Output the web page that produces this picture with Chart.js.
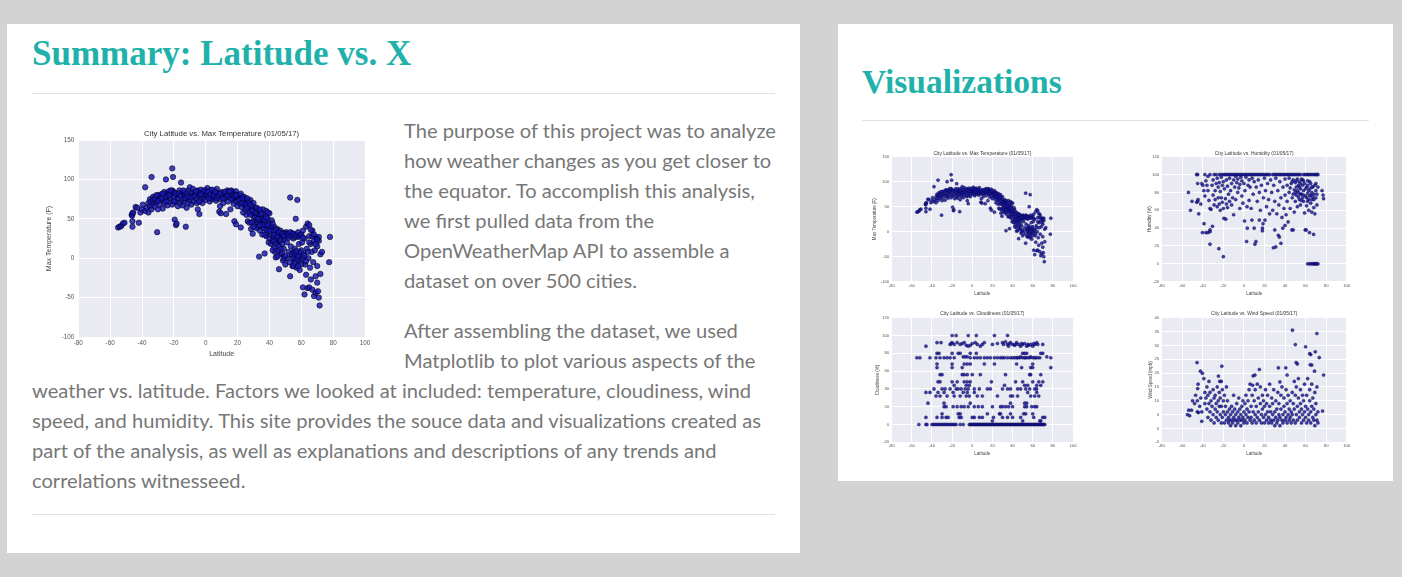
<!DOCTYPE html>
<html>
<head>
<meta charset="utf-8">
<script src="https://cdn.jsdelivr.net/npm/chart.js@4.4.1/dist/chart.umd.min.js"></script>
<style>
  html,body{margin:0;padding:0;}
  body{background:#d3d3d3;width:1402px;height:577px;position:relative;overflow:hidden;}
  .panel{position:absolute;background:#fff;}
  h2{position:absolute;margin:0;font-family:"Liberation Serif","Times New Roman",serif;font-weight:bold;color:#20b2aa;line-height:40px;white-space:nowrap;}
  .rule{position:absolute;height:1px;background:#e3e3e3;}
  #text{position:absolute;left:32px;top:115px;width:760px;font-family:Lato,"Open Sans",sans-serif;font-size:20.15px;line-height:30px;color:#777;}
  #text .l{white-space:nowrap;}
  #text .in{padding-left:372px;}
  #text .gap{margin-bottom:20px;}
  canvas{position:absolute;}
</style>
</head>
<body>
<div class="panel" style="left:7px;top:24px;width:793px;height:529px;"></div>
<div class="panel" style="left:838px;top:24px;width:555px;height:457px;"></div>

<h2 style="left:32px;top:34px;font-size:35px;">Summary: Latitude vs. X</h2>
<div class="rule" style="left:32px;top:93px;width:743px;"></div>
<div id="text">
  <div class="l in">The purpose of this project was to analyze</div>
  <div class="l in">how weather changes as you get closer to</div>
  <div class="l in">the equator. To accomplish this analysis,</div>
  <div class="l in">we first pulled data from the</div>
  <div class="l in">OpenWeatherMap API to assemble a</div>
  <div class="l in gap">dataset on over 500 cities.</div>
  <div class="l in">After assembling the dataset, we used</div>
  <div class="l in">Matplotlib to plot various aspects of the</div>
  <div class="l">weather vs. latitude. Factors we looked at included: temperature, cloudiness, wind</div>
  <div class="l">speed, and humidity. This site provides the souce data and visualizations created as</div>
  <div class="l">part of the analysis, as well as explanations and descriptions of any trends and</div>
  <div class="l">correlations witnesseed.</div>
</div>
<div class="rule" style="left:32px;top:514px;width:743px;"></div>

<h2 style="left:862px;top:62px;font-size:33.5px;">Visualizations</h2>
<div class="rule" style="left:862px;top:120px;width:507px;"></div>

<canvas id="mainTemp" width="350" height="240" style="left:30px;top:122px;"></canvas>
<canvas id="smTemp" width="258" height="157" style="left:862px;top:143px;"></canvas>
<canvas id="smHum" width="262" height="157" style="left:1120px;top:143px;"></canvas>
<canvas id="smCloud" width="258" height="157" style="left:862px;top:305px;"></canvas>
<canvas id="smWind" width="262" height="157" style="left:1120px;top:305px;"></canvas>

<script>
// ---------- data (latitude, value) ----------
const latTicks = [-80, -60, -40, -20, 0, 20, 40, 60, 80, 100];
const tempTicks = [-100, -50, 0, 50, 100, 150];
const humTicks = [-20, 0, 20, 40, 60, 80, 100, 120];
const cloudTicks = [-20, 0, 20, 40, 60, 80, 100, 120];
const windTicks = [-5, 0, 5, 10, 15, 20, 25, 30, 35, 40];

const tempData = [
[-55,39],[-54,40],[-53,41],[-52,44],[-51,45],
[-46.5,55],[-46,57],[-46.2,54],[-45.5,58],[-46,47],[-46,40],[-44,65],[-43,64],[-42,45],
[-41,58],[-40,62],[-39.5,68],[-38,90],[-38,60],[-37,64],[-36,70],[-36,58],[-35,66],[-35,75],[-34.5,72],[-34,103],[-34,62],[-33,69],[-33,78],[-32,66],[-31,71],[-30.5,33],[-30,62],[-30,80],[-29,75],[-29,68],[-28,81],[-27,63],[-27,74],
[-26,84],[-26,70],[-25,100],[-25,77],[-24.5,82],[-24,67],[-24,79],[-23,85],[-23,72],[-22,76],[-22,81],[-21,114],[-21,86],[-21,68],[-20.5,103],[-20,78],[-20,84],[-19.5,49],[-19,72],[-18.7,42],[-18.3,44],[-18,80],[-17.5,66],[-17,76],[-16.5,86],[-16,70],[-15.5,96],[-15,82],[-15,74],[-14.5,67],
[-14,80],[-13.5,72],[-13,84],[-12.5,40],[-12,64],[-12,77],[-11,70],[-11,86],[-10.5,80],[-10,90],[-10,74],[-9,83],[-9,68],[-8.5,78],[-8,88],[-7.5,72],[-7,84],[-6.5,80],[-6,76],[-5.5,70],[-5,86],[-5,62],[-4.5,79],[-4,56],[-4,82],[-3,74],[-3,87],[-2,80],[-2,70],[-1.5,84],[-1,77],[-0.5,81],
[0,86],[0,74],[0.5,80],[1,89],[1.5,78],[2,83],[2.5,72],[3,86],[3.5,79],[4,75],[4.5,82],[5,77],[5.5,85],[6,80],[6.5,73],[7,88],[7.5,78],[8,82],[8.5,59],[9,75],[9,66],[9.5,57],[10,84],[10,79],[11,70],[11.5,82],
[12,76],[12.8,56],[13,80],[13.5,86],[14,72],[14.5,84],[15,78],[15.5,62],[16,86],[16.5,80],[17,74],[17,84],[17.5,69],[18,82],[18,47],[18.5,77],[19,43],[19,85],[19.5,72],[20,78],[20,66],
[21,80],[21.5,70],[22,39],[22,75],[22.5,65],[23,78],[23.5,58],[24,72],[24.5,68],[25,75],[25,62],[25.5,55],[26,71],[26.4,47],[27,66],[27.4,45],[27.5,58],[28,74],[28.5,37],[28.5,62],[29,67],[29.5,31],[29.5,55],[30,70],[30,48],
[30.5,60],[31,44],[31,52],[31.5,63],[32,57],[32,38],[32.5,50],[33,61],[33,45],[33.5,2],[33.5,55],[34,35],[34,48],[34.5,58],[35,42],[35,52],[35.5,30],[36,46],[36,62],[36.5,38],[37,6],[37,54],[37.5,44],[38,28],[38,60],[38.5,40],[39,50],[39,33],[39.5,20],[40,45],[40,57],[40,25],
[40.5,38],[41,30],[41,18],[41.5,48],[42,22],[42,35],[42.5,28],[43,40],[43,14],[43.5,8],[44,1],[44,25],[44.5,32],[45,20],[45,37],[45.5,10],[46,28],[46,-14],[46.5,22],[47,35],[47,5],[47.5,30],[48,18],[48,26],[48.5,-3],[49,32],[49,12],[49.5,24],[50,28],[50,-8],
[50.5,33],[51,20],[51,0],[51.5,30],[52,8],[52,26],[52.5,-5],[53,29],[53,-23],[53,77],[53.5,15],[54,32],[54,3],[54.5,-10],[55,25],[55,8],[55.5,-2],[56,29],[56,12],[56.5,50],[57,5],[57,-12],[57.5,74],[58,27],[58,-4],[58.5,18],[59,2],[59,-15],[59.5,30],[60,10],
[60,-3],[60.5,20],[61,-37],[61,35],[61.5,5],[62,-46],[62,25],[62.5,-8],[63,-21],[63,40],[63.5,12],[64,44],[64,-38],[64.5,0],[65,-37],[65,42],[65,28],[65.5,-12],[66,18],[66,-27],[66.5,8],[67,-40],[67,35],[67.5,-5],[68,-48],[68,22],[68.5,10],[69,-23],[69,-44],[69.5,26],[70,-31],[70,15],[70,-10],
[70.5,-42],[71,-50],[71,22],[71,27],[71.5,-60],[72,5],[72,-20],[73,8],[77.5,-5],[78,27],
[50,30],[51,31],[52,29],[53,33],[54,28],[55,31],[56,27],[57,30],[58,33],[59,28],[60,30],[61,26],
[54,5],[55,0],[56,6],[57,-2],[58,3],[59,8],[60,-8],[56,-6],[55,-10],[58,-10],[61,0],[62,3],[63,-4],[64,8],[57,9],
[65,20],[67,28],[68,30],[69,18],[70,24],[66,36],
[41,40],[42,44],[43,30],[44,36],[45,27],[46,33],[47,23],[48,31],[49,28],[43,22],[44,18],[46,15],[47,12],[48,6],[49,0],[50,3],[45,2],[42,10],
[31,58],[32,64],[33,40],[34,62],[35,56],[36,50],[37,48],[38,52],[39,58],[38,36],[36,42],[34,42],[33,50],[37,30],[39,42],[40,35],
[21,74],[22,82],[23,70],[24,78],[25,68],[26,64],[27,72],[28,68],[29,60],[23,76],[26,76],[28,55],[29,45],[30,40],
[-33,74],[-32,76],[-31,80],[-30,73],[-28,76],[-27,82],[-25,72],[-23,80],[-22,86],[-20,72],[-19,82],[-17,82],[-16,79],[-14,86],[-13,76],[-12,82],[-11,78],[-9,77],[-7,79],[-6,85],[-4,72],[-3,81],[-1,86],
[1,84],[2,76],[3,81],[4,87],[5,80],[6,84],[7,76],[8,79],[9,82],[11,76],[12,84],[13,78],[14,80],[15,85],[16,76],[17,80],[18,78],[19,80]
];

const humData = [
[-46,100],[-45,100],[-38,100],[-33,100],[-29,100],[-27,100],[-24,100],[-22,100],
[-20,100],[-18.5,100],[-17,100],[-15.5,100],[-14,100],[-12.5,100],[-11,100],[-9.5,100],[-8,100],[-6.5,100],[-5,100],[-3.5,100],[-2,100],[-0.5,100],[1,100],[2.5,100],[4,100],[5.5,100],[7,100],[8.5,100],[10,100],[11.5,100],[13,100],[14.5,100],[16,100],[17.5,100],[19,100],[20.5,100],[22,100],[23.5,100],[25,100],[28,100],[29.5,100],[31,100],[32.5,100],[34,100],[35.5,100],[37,100],[38.5,100],[40,100],[41.5,100],[43,100],[44.5,100],[46,100],[47.5,100],[49,100],[50.5,100],[52,100],[53.5,100],[55,100],[58,100],[59.5,100],[61,100],[62.5,100],[64,100],[65.5,100],[67,100],[68.5,100],[70,100],[71,100],[72,100],
[-54,80],[-52,60],[-50.5,70],[-45,90],[-44.6,72],[-44,56],[-42,67],[-41,90],[-46,69],[-45,70],[-40,88],[-39,82],[-38.8,45],[-40.4,35],[-37,35],[-35,35],[-33,38],[-33,36],[-30.6,42],[-33,22],[-24.4,17],[-20,8],
[-38,76],[-37,93],[-36,88],[-35,98],[-35,82],[-34,71],[-33,62],[-32,61],[-31,88],[-30,77],[-30,94],[-29,66],[-28,82],[-28,72],[-27,90],[-26,96],[-26,64],[-25,74],[-25,86],[-24,91],[-24,67],[-23,81],[-23,60],[-22,97],[-22,74],[-21,88],[-21,69],[-20,92],[-20,62],[-19.5,51],[-17.6,50],[-19,84],[-18,73],[-17,94],[-17,67],[-16,87],[-16,63],[-15,78],[-14,96],[-14,70],[-13,82],[-12,90],[-12,66],[-11,74],[-10,94],[-10,55],[-9,86],[-8,98],[-8,72],[-7,91],[-6,80],[-6,95],[-5,85],[-4,89],[-4,62],[-3,97],[-2,76],[-2,93],[-1,68],
[0,90],[0.6,48],[1,82],[2,97],[2.6,25],[3.3,40],[3,64],[4,88],[5,94],[5,71],[6,86],[7,62],[7.8,49],[8,96],[9,78],[10,40],[10,92],[10.7,22],[11.7,25],[12,86],[13,70],[14,94],[15,49],[15,80],[16,60],[17,88],[18,40],[18,37],[18.6,45],[19,74],[20,96],[20.5,49],
[21,82],[22,64],[23,90],[24,72],[25,56],[26,94],[27,80],[28,60],[28.7,18],[29,88],[30,38],[30,70],[31,19],[31,96],[32,56],[33,82],[33.5,32],[34,66],[34.5,30],[35,92],[36,23],[36,74],[37,52],[37.8,40],[38,86],[39,62],[40,43],[40,95],[40,77],
[41,55],[42,88],[42,70],[43,47],[44,96],[44,80],[45,62],[46,90],[46.6,38],[47,74],[48,38],[48,94],[49,83],[49,58],[50,91],[50,70],[51,86],[51,77],[52,95],[52,64],[53,80],[53,88],[54,72],[54,92],[55,84],[55,66],[56,78],[56,95],[57,88],[57,74],[58,70],[58,82],[59,90],[59,57],[59.6,38],[60.6,38],[60,76],
[61,86],[61,65],[62,79],[62,93],[63,72],[63,60],[63.8,35],[64,84],[64,76],[65,68],[65,90],[66,80],[66,58],[67,75],[67,86],[67.8,33],[68,63],[68,78],[69,88],[69,56],[70,74],[70,82],[71,66],[72,86],[76,82],[77,77],[77.5,73],
[62,0],[64,0],[65.5,0],[67,0],[68,0],[69,0],[70,0],[71,0],[72,0],
[45,85],[47,92],[48,78],[50,80],[51,93],[53,75],[54,86],[55,78],[56,71],[57,94],[58,77],[60,84],[61,74],[62,88],[63,82],[64,92],[65,77],[66,86],[68,72],[70,90],[71,78],[52,82],[55,90],[58,93],[62,70],[66,72]
];

const cloudData = [
[-20,100],[-16,100],[-4,100],[4,100],[22,100],[35,100],
[-46,88],[-35,92],[-31,92],[-22,90],[-20,92],[-18,90],[-15,92],[-12,90],[-10,91],[-8,92],[-6,89],[-4,88],[-2,89],[0,91],[3,92],[5,90],[8,88],[10,90],[12,92],[20,90],[25,91],[30,92],[33,93],[35,90],[36,88],[38,92],[40,90],[42,89],[44,92],[46,90],[48,88],[50,90],[52,91],[54,88],[56,89],[58,90],[60,88],[62,90],[64,92],[65,90],[70,90],[-21,91],[31,90],[37,91],[43,90],[49,91],[55,90],[61,91],
[-35,80],[-33,80],[-20,80],[-14,80],[-12,80],[-2,80],[4,80],[50,80],[52,80],[54,80],[68,80],[70,80],
[-55,75],[-52,75],[-42,75],[-36,75],[-32,75],[-28,75],[-25,75],[-22,75],[-18,75],[-9,76],[-7,76],[-5,76],[-2,75],[2,75],[5,75],[8,75],[12,75],[15,75],[18,75],[22,75],[25,75],[28,75],[30,75],[32,75],[35,75],[38,75],[40,75],[42,75],[45,75],[47,75],[50,75],[52,75],[55,75],[57,75],[60,75],[62,75],[65,75],[67,75],[74,76],[78,75],[44,75],[48,76],[53,75],[58,76],[63,75],
[-35,68],[-20,68],[-8,68],[-5,68],[-2,68],[12,68],[22,68],[44,68],[60,68],
[-35,64],[-20,64],[-10,64],[49,64],[58,64],[60,64],[78,64],
[-32,56],[-30,56],[-10,56],[-8,56],[-5,56],[0,56],[8,56],[33,56],[57,56],[58,56],[68,56],
[-34,48],[-32,48],[-20,48],[-15,48],[-8,48],[-5,48],[-2,48],[19,48],[43,48],[50,48],[60,48],[66,48],[70,48],
[-18,44],[-6,44],[-3,44],[32,44],[52,44],[55,44],[64,44],[68,44],
[-38,40],[-30,40],[-27,40],[-22,40],[-16,40],[-14,40],[-11,40],[-7,40],[-4,40],[2,40],[7,40],[15,40],[18,40],[30,40],[35,40],[38,40],[45,40],[48,40],[53,40],[57,40],[62,40],[64,40],
[-46,36],[-42,36],[-34,36],[-28,36],[-19,36],[-9,36],[-5,36],[2,36],[55,36],[64,36],
[-36,32],[-32,32],[-25,32],[-18,32],[-12,32],[-6,32],[-3,32],[5,32],[10,32],[25,32],[38,32],[40,32],[45,32],[58,32],[62,32],[66,32],
[-44,24],[-28,24],[-2,24],[38,24],[52,24],[54,24],
[-28,20],[-26,20],[-19,20],[-15,20],[-11,20],[-8,20],[-4,20],[2,20],[6,20],[10,20],[20,20],[28,20],[30,20],[33,20],[36,20],[40,20],[52,20],[54,20],[59,20],[62,20],[64,20],
[-30,12],[-14,12],[-12,12],[15,12],[27,12],[28,12],[38,12],[51,12],[53,12],[60,12],
[-46,8],[-35,8],[-30,8],[-26,8],[-24,8],[-13,8],[-11,8],[0,8],[2,8],[7,8],[10,8],[21,8],[30,8],[35,8],[40,8],[48,8],[61,8],[70,8],[72,8],[68,4],[20,4],[50,4],[67,4],
[-53,0],[-46,0],[-45,0],[-40,0],[-38.5,0],[-37,0],[-35.5,0],[-34,0],[-32.5,0],[-31,0],[-29.5,0],[-28,0],[-26.5,0],[-25,0],[-23.5,0],[-22,0],[-20.5,0],[-19,0],[-17.5,0],[-16,0],[-12,0],[-9,0],
[-3,0],[-2,0],[-1,0],[0,0],[1,0],[2,0],[3,0],[4,0],[5,0],[6,0],[7,0],[8,0],[9,0],[10,0],[11,0],[12,0],[13,0],[14,0],[15,0],[16,0],[17,0],[18,0],[19,0],[20,0],[21,0],[22,0],[23,0],[24,0],[25,0],[26,0],[27,0],[28,0],[29,0],[30,0],[31,0],[32,0],[33,0],[34,0],[35,0],[36,0],[37,0],[38,0],[39,0],[40,0],[41,0],[42,0],[43,0],[44,0],[45,0],[46,0],[47,0],[48,0],[49,0],[50,0],[51,0],[52,0],[53,0],[54,0],[55,0],[56,0],[57,0],[58,0],[59,0],[60,0],[61,0],[62,0],[63,0],[64,0],[65,0],[66,0],[67,0],[68,0],[69,0],[70,0],[71,0],[72,0]
];

const windData = [
[47.2,35.5],[71,34.3],[50,30.3],[60,29.5],[69.4,27.7],[64,27],[65,26.7],[73.3,25.6],[50.8,23.8],[52,23.3],[64.5,23],[66,22.9],[68.7,20.7],[77.5,19.3],[76.5,6.3],
[-45.6,23.8],[-42.3,20.7],[-40.4,19.9],[-44.6,16],[-45,14.4],[-51,6.6],[-53.7,6.6],[-52.8,4.6],[-45.3,10],[-45.3,6],[-44.3,5.7],[-41,2.6],[-24.8,18.9],[-21.5,22.5],[-23.5,17],[-22,17],[15,21.3],[8.5,15.6],[9,19],[10.7,19.3],[33.5,21.9],[40.7,21.9],[42,19.3],[35,16.8],
[-39,18],[-38,13],[-38,9],[-37,11],[-36,15],[-36,7],[-35,12],[-35,4],[-34,17],[-34,9],[-33,6],[-33,13],[-32,3],[-32,10],[-31,8],[-30,14],[-30,5],[-29,11],[-29,2],[-28,7],[-28,12],[-27,9],[-27,4],[-26,15],[-26,6],[-25,10],[-25,3],[-24,8],[-24,13],[-23,5],[-23,11],[-22,2],[-22,8],[-21,14],[-21,4],[-20,10],[-20,6],[-19,2],[-19,12],[-18,5],[-18,8],[-17,3],[-17,15],[-16,6],[-16,10],[-15,2],[-15,4],[-14,7],[-14,3],[-13,5],[-13,1],[-12,3],[-12,8],[-11,2],[-11,6],[-10,4],[-10,12],[-9,3],[-9,7],[-8,1],[-8,5],[-7,3],[-7,9],[-6,6],[-6,2],[-5,4],[-5,11],[-4,3],[-4,7],[-3,5],[-3,1],[-2,8],[-2,3],[-1,4],[-1,10],
[0,2],[0,6],[1,9],[1,3],[2,5],[2,12],[3,2],[3,7],[4,10],[4,4],[5,14],[5,6],[6,3],[6,16],[7,8],[7,4],[8,12],[8,2],[9,6],[10,10],[10,3],[11,14],[11,5],[12,8],[12,2],[13,16],[13,4],[14,11],[14,6],[15,3],[16,9],[16,15],[17,5],[17,2],[18,12],[18,7],[19,4],[19,10],[20,2],[20,8],
[21,5],[21,14],[22,3],[22,9],[23,6],[23,12],[24,2],[24,4],[25,8],[25,16],[26,3],[26,6],[27,11],[27,2],[28,5],[28,9],[29,3],[29,14],[30,1],[30,6],[31,4],[31,10],[32,2],[32,7],[33,13],[33,3],[34,5],[34,9],[35,1],[35,4],[36,7],[36,12],[37,3],[37,15],[38,5],[38,2],[39,8],[39,11],[40,3],[40,6],[41,14],[41,4],[42,2],[42,9],[43,5],[43,12],[44,3],[44,7],
[45,4],[45,10],[46,6],[46,2],[47,13],[47,5],[48,3],[48,9],[49,7],[49,17],[50,2],[50,12],[51,5],[51,15],[52,8],[52,3],[53,11],[53,18],[54,4],[54,6],[55,9],[55,14],[56,2],[56,7],[57,12],[57,5],[58,3],[58,10],[59,16],[59,6],[60,4],[60,8],[61,12],[61,2],[62,7],[62,18],[63,5],[63,3],[64,10],[64,14],[65,6],[65,2],[66,8],[66,16],[67,4],[67,11],[68,3],[68,7],[69,13],[69,1],[70,5],[70,9],[71,3],[71,15],[72,6],[72,2],
[-55,5],[-50,10],[-48,9],[-47,12],[-43,8],[-42,11],[-41,6]
];

// ---------- chart helpers ----------
const FONT = '"Liberation Sans", Arial, sans-serif';
const plotBg = {
  id: 'plotBg',
  beforeDraw(chart) {
    const a = chart.chartArea, ctx = chart.ctx;
    ctx.save();
    ctx.fillStyle = '#eaeaf2';
    ctx.fillRect(a.left, a.top, a.right - a.left, a.bottom - a.top);
    ctx.restore();
  }
};

function scatter(id, o) {
  const tickVals = (arr) => (s) => { s.ticks = arr.map(v => ({value: v})); };
  return new Chart(document.getElementById(id), {
    type: 'scatter',
    data: { datasets: [{
      data: o.data.map(p => ({x: p[0], y: p[1]})),
      backgroundColor: o.fill, borderColor: o.edge, borderWidth: o.bw,
      pointRadius: o.r, pointHoverRadius: o.r
    }]},
    options: {
      responsive: false, animation: false, devicePixelRatio: 1, events: [],
      layout: { padding: o.pad },
      plugins: {
        legend: { display: false }, tooltip: { enabled: false },
        title: { display: true, text: o.title, fullSize: false, color: '#333',
                 font: { family: FONT, size: o.fTitle, weight: 'normal' },
                 padding: { top: o.tPad[0], bottom: o.tPad[1] } }
      },
      scales: {
        x: { type: 'linear', min: latTicks[0], max: latTicks[latTicks.length - 1],
             afterBuildTicks: tickVals(latTicks),
             ticks: { color: '#555', font: { family: FONT, size: o.fTick }, padding: o.xtp, maxRotation: 0, autoSkip: false },
             grid: { color: '#ffffff', lineWidth: 1, drawTicks: false }, border: { display: false },
             title: { display: true, text: 'Latitude', color: '#444', font: { family: FONT, size: o.fAxis }, padding: { top: 0, bottom: 1 } },
             afterFit(s) { s.height = o.xh; } },
        y: { type: 'linear', min: o.yTicks[0], max: o.yTicks[o.yTicks.length - 1],
             afterBuildTicks: tickVals(o.yTicks),
             ticks: { color: '#555', font: { family: FONT, size: o.fTick }, padding: o.ytp, autoSkip: false },
             grid: { color: '#ffffff', lineWidth: 1, drawTicks: false }, border: { display: false },
             title: { display: true, text: o.yTitle, color: '#444', font: { family: FONT, size: o.fAxis }, padding: { top: 1, bottom: 0 } },
             afterFit(s) { s.width = o.yw; } }
      }
    },
    plugins: [plotBg]
  });
}

const bigStyle = { fill: 'rgba(22,22,180,0.82)', edge: 'rgba(0,0,30,0.9)', bw: 0.7, r: 2.7 };
const smStyle  = { fill: 'rgba(22,22,160,0.82)', edge: 'rgba(0,0,45,0.8)', bw: 0.4, r: 1.6 };
const smFonts  = { fTitle: 4.9, fTick: 4.2, fAxis: 4.5 };

scatter('mainTemp', Object.assign({}, bigStyle, {
  data: tempData, yTicks: tempTicks, title: 'City Latitude vs. Max Temperature (01/05/17)', yTitle: 'Max Temperature (F)',
  fTitle: 7.75, fTick: 6.3, fAxis: 7,
  pad: { left: 13.8, right: 15, top: 0, bottom: 2.5 }, tPad: [7.35, 1.35], yw: 34.5, xh: 22.5, xtp: 2.5, ytp: 4
}));
scatter('smTemp', Object.assign({}, smStyle, smFonts, {
  data: tempData, yTicks: tempTicks, title: 'City Latitude vs. Max Temperature (01/05/17)', yTitle: 'Max Temperature (F)',
  pad: { left: 9.3, right: 47, top: 0, bottom: 3 }, tPad: [7.36, 0.46], yw: 20.4, xh: 15.3, xtp: 1.5, ytp: 2.5
}));
scatter('smHum', Object.assign({}, smStyle, smFonts, {
  data: humData, yTicks: humTicks, title: 'City Latitude vs. Humidity (01/05/17)', yTitle: 'Humidity (%)',
  pad: { left: 25.6, right: 35.3, top: 0, bottom: 3 }, tPad: [7.36, 0.46], yw: 16.1, xh: 15.3, xtp: 1.5, ytp: 2.5
}));
scatter('smCloud', Object.assign({}, smStyle, smFonts, {
  data: cloudData, yTicks: cloudTicks, title: 'City Latitude vs. Cloudiness (01/05/17)', yTitle: 'Cloudiness (%)',
  pad: { left: 11.6, right: 47, top: 0, bottom: 4.3 }, tPad: [6.06, 0.76], yw: 18.1, xh: 15.4, xtp: 1.2, ytp: 2.5
}));
scatter('smWind', Object.assign({}, smStyle, smFonts, {
  data: windData, yTicks: windTicks, title: 'City Latitude vs. Wind Speed (01/05/17)', yTitle: 'Wind Speed (mph)',
  pad: { left: 27, right: 35.3, top: 0, bottom: 4.3 }, tPad: [6.06, 0.76], yw: 14.7, xh: 15.4, xtp: 1.2, ytp: 2.5
}));
</script>
</body>
</html>
